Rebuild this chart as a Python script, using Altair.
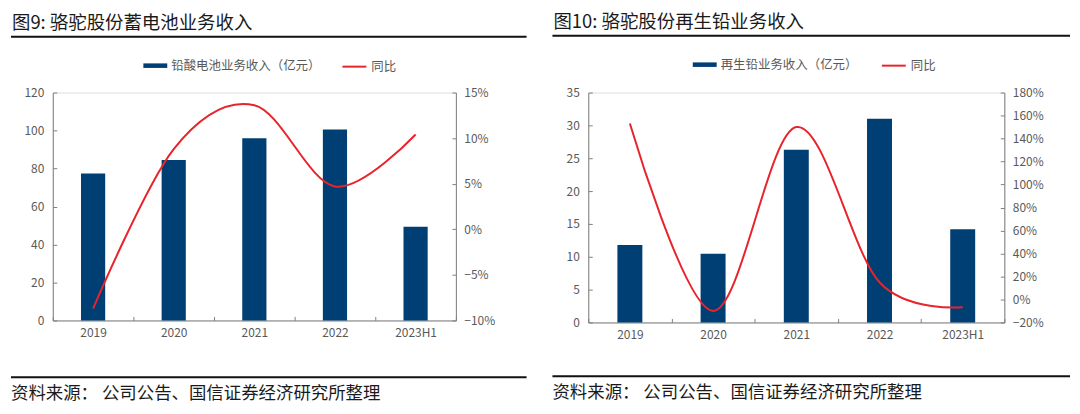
import altair as alt
import pandas as pd

years = ["2019", "2020", "2021", "2022", "2023H1"]

# 图9: 蓄电池业务
lead_acid_rev = [77.4, 84.5, 95.9, 100.5, 49.4]
lead_acid_yoy = [-0.087, 0.088, 0.136, 0.047, 0.104]

# 图10: 再生铅业务
recycled_rev = [11.8, 10.45, 26.3, 31.0, 14.2]
recycled_yoy = [1.53, -0.10, 1.50, 0.15, -0.067]

left_title = "图9: 骆驼股份蓄电池业务收入"
right_title = "图10: 骆驼股份再生铅业务收入"
left_bar_name = "铅酸电池业务收入（亿元）"
right_bar_name = "再生铅业务收入（亿元）"
line_name = "同比"
source_text = "资料来源： 公司公告、国信证券经济研究所整理"

left_ticks = [0, 20, 40, 60, 80, 100, 120]
left_pct_ticks = [-0.10, -0.05, 0.0, 0.05, 0.10, 0.15]
right_ticks = [0, 5, 10, 15, 20, 25, 30, 35]
right_pct_ticks = [-0.2, 0.0, 0.2, 0.4, 0.6, 0.8, 1.0, 1.2, 1.4, 1.6, 1.8]

BLUE = "#003f74"
RED = "#e8242b"
GREY = "#808080"
LABEL = "#595959"
FONT = "Noto Sans CJK SC"
AXFS = 12


def panel(title, bar_name, rev, yoy, w, h, yticks, pticks, lx1, lx2, ly,
          rule_l, rule_r, title_y, foot_rule_y, foot_text_y):
    df = pd.DataFrame({"year": years, "rev": rev, "yoy": yoy,
                       "bs": [bar_name] * len(years), "ls": [line_name] * len(years)})
    xenc = alt.X(
        "year:N", sort=years, title=None,
        scale=alt.Scale(paddingInner=0, paddingOuter=0),
        axis=alt.Axis(labelAngle=0, domainColor=GREY, ticks=False,
                      tickBand="extent", grid=True, gridDash=[0, h - 4, 4, 1000],
                      gridColor=GREY, labelPadding=7, labelColor=LABEL,
                      labelFontSize=AXFS, labelFont=FONT),
    )
    bars = alt.Chart(df).mark_bar(width=alt.RelativeBandSize(0.3)).encode(
        x=xenc,
        y=alt.Y("rev:Q", title=None,
                scale=alt.Scale(domain=[yticks[0], yticks[-1]], nice=False),
                axis=alt.Axis(orient="left", values=yticks, domainColor=GREY,
                              ticks=False, grid=True, gridDash=[4, 1000],
                              gridColor=GREY, labelPadding=9, labelColor=LABEL,
                              labelFontSize=AXFS, labelFont=FONT)),
        color=alt.Color(
            "bs:N",
            scale=alt.Scale(domain=[bar_name], range=[BLUE]),
            legend=alt.Legend(orient="none", legendX=lx1, legendY=ly,
                              direction="horizontal", title=None,
                              symbolType="M-1,-0.19H1V0.19H-1Z", symbolSize=576,
                              symbolStrokeWidth=0, labelFontSize=12.5,
                              labelColor=LABEL, labelFont=FONT, labelOffset=4,
                              labelLimit=300, padding=0),
        ),
    )
    line = alt.Chart(df).mark_line(interpolate="cardinal", strokeWidth=2).encode(
        x=xenc,
        y=alt.Y("yoy:Q", title=None,
                scale=alt.Scale(domain=[pticks[0], pticks[-1]], nice=False, zero=False),
                axis=alt.Axis(orient="right", values=pticks, format=".0%",
                              domainColor=GREY, ticks=False, grid=True,
                              gridDash=[4, 1000], gridColor=GREY, labelPadding=8,
                              labelColor=LABEL, labelFontSize=AXFS, labelFont=FONT)),
        stroke=alt.Stroke(
            "ls:N",
            scale=alt.Scale(domain=[line_name], range=[RED]),
            legend=alt.Legend(orient="none", legendX=lx2, legendY=ly,
                              direction="horizontal", title=None,
                              symbolType="stroke", symbolSize=576,
                              symbolStrokeWidth=2, labelFontSize=12.5,
                              labelColor=LABEL, labelFont=FONT, labelOffset=4,
                              padding=0),
        ),
    )
    tdf = pd.DataFrame({"t": [title]})
    sdf = pd.DataFrame({"t": [source_text]})
    title_mark = alt.Chart(tdf).mark_text(
        align="left", baseline="middle", fontSize=18.5, font=FONT, color="#1a1a1a"
    ).encode(text="t:N", x=alt.value(rule_l + 1), y=alt.value(title_y))
    foot_mark = alt.Chart(sdf).mark_text(
        align="left", baseline="middle", fontSize=17.5, font=FONT, color="#1a1a1a"
    ).encode(text="t:N", x=alt.value(rule_l), y=alt.value(foot_text_y))
    rule_top = alt.Chart(tdf).mark_rule(color="#111111", strokeWidth=2).encode(
        x=alt.value(rule_l), x2=alt.value(rule_r), y=alt.value(title_y + 14))
    rule_bot = alt.Chart(sdf).mark_rule(color="#111111", strokeWidth=2).encode(
        x=alt.value(rule_l), x2=alt.value(rule_r), y=alt.value(foot_rule_y))
    return alt.layer(bars, line, title_mark, foot_mark, rule_top, rule_bot).resolve_scale(
        y="independent").properties(width=w, height=h)


left = panel(left_title, left_bar_name, lead_acid_rev, lead_acid_yoy, 405, 229,
             left_ticks, left_pct_ticks, 91, 290, -39, -42, 476, -70, 286, 303)
right = panel(right_title, right_bar_name, recycled_rev, recycled_yoy, 418, 231,
              right_ticks, right_pct_ticks, 105, 294, -40, -36, 484, -71, 285, 302)

chart = alt.hconcat(left, right, spacing=22).resolve_scale(
    color="independent", stroke="independent", x="independent"
).properties(
    padding={"left": 1, "top": 3, "right": 0, "bottom": 0}
).configure_view(stroke=None).configure(font=FONT)

chart.save("out.html", embed_options={"renderer": "svg", "actions": False})
